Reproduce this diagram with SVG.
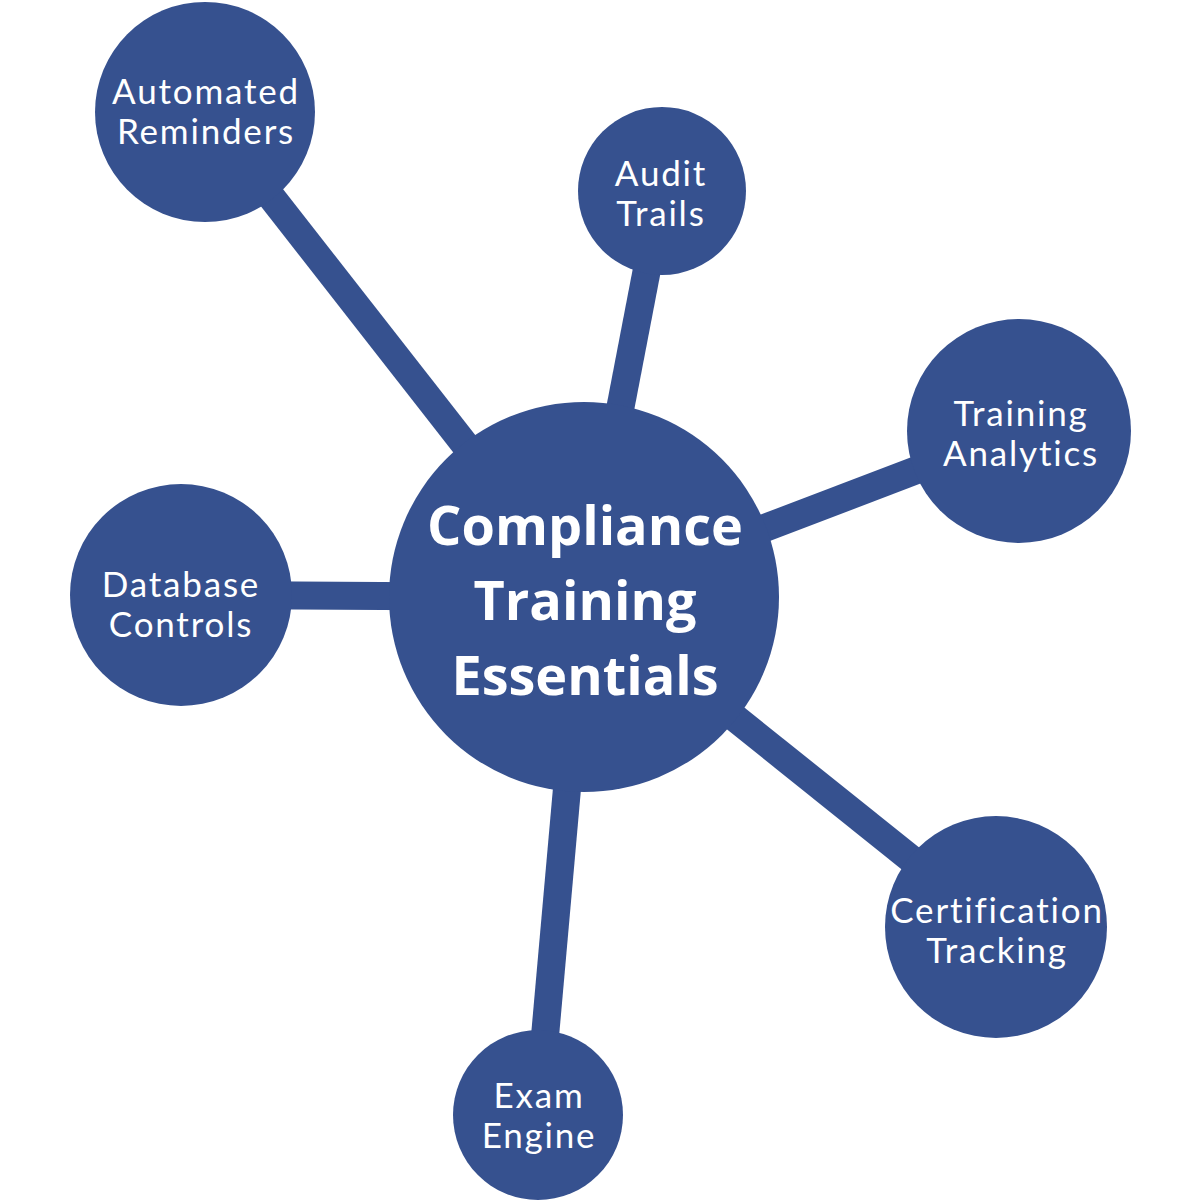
<svg xmlns="http://www.w3.org/2000/svg" width="1200" height="1200" viewBox="0 0 1200 1200">
<style>
.n{fill:#36518f}
.e{stroke:#36518f;stroke-width:28;fill:none}
.t{fill:#fff;font-family:Lato,"Noto Sans",sans-serif;font-size:35px;letter-spacing:1.8px;text-anchor:middle}
.c{fill:#fff;font-family:"Open Sans","Noto Sans",sans-serif;font-weight:bold;font-size:54px;text-anchor:middle}
</style>
<rect width="1200" height="1200" fill="#fff"/>
<g id="connectors">
<line class="e" x1="584" y1="597" x2="205" y2="112"/>
<line class="e" x1="584" y1="597" x2="662" y2="191"/>
<line class="e" x1="584" y1="597" x2="1019" y2="431"/>
<line class="e" x1="584" y1="597" x2="181" y2="595"/>
<line class="e" x1="584" y1="597" x2="996" y2="927"/>
<line class="e" x1="584" y1="597" x2="538" y2="1115"/>
</g>
<g id="center">
<circle class="n" cx="584" cy="597" r="195"/>
<text class="c" x="585" y="545">Compliance</text>
<text class="c" x="585" y="620">Training</text>
<text class="c" x="585" y="695">Essentials</text>
</g>
<g id="automated-reminders">
<circle class="n" cx="205" cy="112" r="110"/>
<text class="t" x="206" y="104">Automated</text>
<text class="t" x="206" y="144">Reminders</text>
</g>
<g id="audit-trails">
<circle class="n" cx="662" cy="191" r="84"/>
<text class="t" x="661" y="186">Audit</text>
<text class="t" x="661" y="226">Trails</text>
</g>
<g id="training-analytics">
<circle class="n" cx="1019" cy="431" r="112"/>
<text class="t" x="1021" y="426">Training</text>
<text class="t" x="1021" y="466">Analytics</text>
</g>
<g id="database-controls">
<circle class="n" cx="181" cy="595" r="111"/>
<text class="t" x="181" y="597">Database</text>
<text class="t" x="181" y="637">Controls</text>
</g>
<g id="certification-tracking">
<circle class="n" cx="996" cy="927" r="111"/>
<text class="t" x="997" y="923">Certification</text>
<text class="t" x="997" y="963">Tracking</text>
</g>
<g id="exam-engine">
<circle class="n" cx="538" cy="1115" r="85"/>
<text class="t" x="539" y="1108">Exam</text>
<text class="t" x="539" y="1148">Engine</text>
</g>
</svg>
